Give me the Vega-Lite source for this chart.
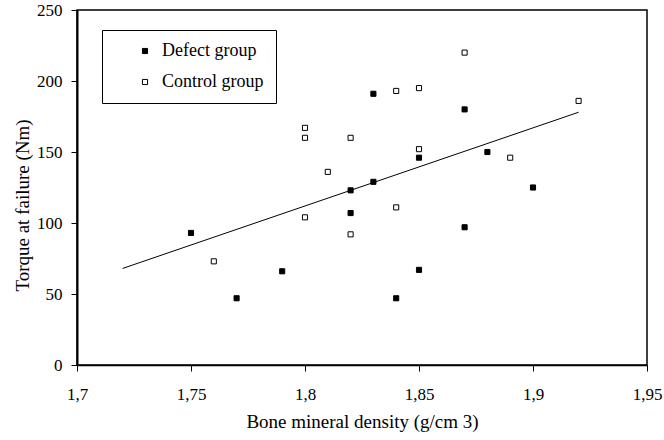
{
  "$schema": "https://vega.github.io/schema/vega-lite/v6.json",
  "width": 570,
  "height": 355,
  "autosize": {"type": "none"},
  "padding": {"left": 77, "top": 10, "right": 17, "bottom": 75},
  "background": "white",
  "config": {
    "view": {"stroke": "black", "strokeWidth": 1.5},
    "font": "Liberation Serif",
    "style": {
      "guide-label": {"font": "Liberation Serif", "fill": "black"},
      "guide-title": {"font": "Liberation Serif", "fill": "black"}
    },
    "axis": {
      "grid": false,
      "domainColor": "black",
      "domainWidth": 1.5,
      "tickColor": "black",
      "tickWidth": 1,
      "tickSize": 6,
      "labelFont": "Liberation Serif",
      "labelFontSize": 17,
      "labelColor": "black",
      "titleFont": "Liberation Serif",
      "titleFontSize": 19,
      "titleFontWeight": "normal",
      "titleColor": "black"
    }
  },
  "datasets": {
    "points": [
      {"bmd": 1.75, "torque": 93, "group": "Defect group"},
      {"bmd": 1.77, "torque": 47, "group": "Defect group"},
      {"bmd": 1.79, "torque": 66, "group": "Defect group"},
      {"bmd": 1.82, "torque": 123, "group": "Defect group"},
      {"bmd": 1.82, "torque": 107, "group": "Defect group"},
      {"bmd": 1.83, "torque": 129, "group": "Defect group"},
      {"bmd": 1.83, "torque": 191, "group": "Defect group"},
      {"bmd": 1.84, "torque": 47, "group": "Defect group"},
      {"bmd": 1.85, "torque": 67, "group": "Defect group"},
      {"bmd": 1.85, "torque": 146, "group": "Defect group"},
      {"bmd": 1.87, "torque": 180, "group": "Defect group"},
      {"bmd": 1.87, "torque": 97, "group": "Defect group"},
      {"bmd": 1.88, "torque": 150, "group": "Defect group"},
      {"bmd": 1.90, "torque": 125, "group": "Defect group"},
      {"bmd": 1.76, "torque": 73, "group": "Control group"},
      {"bmd": 1.80, "torque": 167, "group": "Control group"},
      {"bmd": 1.80, "torque": 160, "group": "Control group"},
      {"bmd": 1.80, "torque": 104, "group": "Control group"},
      {"bmd": 1.81, "torque": 136, "group": "Control group"},
      {"bmd": 1.82, "torque": 160, "group": "Control group"},
      {"bmd": 1.82, "torque": 92, "group": "Control group"},
      {"bmd": 1.84, "torque": 193, "group": "Control group"},
      {"bmd": 1.84, "torque": 111, "group": "Control group"},
      {"bmd": 1.85, "torque": 195, "group": "Control group"},
      {"bmd": 1.85, "torque": 152, "group": "Control group"},
      {"bmd": 1.87, "torque": 220, "group": "Control group"},
      {"bmd": 1.89, "torque": 146, "group": "Control group"},
      {"bmd": 1.92, "torque": 186, "group": "Control group"}
    ],
    "fit": [
      {"bmd": 1.72, "torque": 68},
      {"bmd": 1.92, "torque": 178}
    ]
  },
  "layer": [
    {
      "data": {"name": "fit"},
      "mark": {"type": "line", "color": "black", "strokeWidth": 1},
      "encoding": {
        "x": {"field": "bmd", "type": "quantitative"},
        "y": {"field": "torque", "type": "quantitative"}
      }
    },
    {
      "data": {"name": "points"},
      "mark": {"type": "point", "shape": "square", "filled": true, "stroke": "black", "strokeWidth": 1, "size": 26, "opacity": 1},
      "encoding": {
        "x": {
          "field": "bmd",
          "type": "quantitative",
          "scale": {"domain": [1.7, 1.95], "nice": false, "zero": false},
          "axis": {
            "title": "Bone mineral density (g/cm 3)",
            "values": [1.7, 1.75, 1.8, 1.85, 1.9, 1.95],
            "labelExpr": "replace(format(datum.value, '.2~f'), '.', ',')",
            "labelFont": "Liberation Serif",
            "labelFontSize": 17,
            "labelPadding": 15,
            "titlePadding": 10,
            "labelFlush": false
          }
        },
        "y": {
          "field": "torque",
          "type": "quantitative",
          "scale": {"domain": [0, 250], "nice": false},
          "axis": {
            "title": "Torque at failure (Nm)",
            "values": [0, 50, 100, 150, 200, 250],
            "labelFont": "Liberation Serif",
            "labelFontSize": 17,
            "labelPadding": 9,
            "domainWidth": 2,
            "titleX": -55,
            "titleY": 195,
            "titleAlign": "center",
            "titleBaseline": "middle",
            "titleAngle": -90
          }
        },
        "fill": {
          "field": "group",
          "type": "nominal",
          "scale": {"domain": ["Defect group", "Control group"], "range": ["black", "white"]},
          "legend": {
            "title": null,
            "orient": "none",
            "legendX": 25,
            "legendY": 20,
            "padding": 12,
            "strokeColor": "black",
            "fillColor": "white",
            "symbolType": "square",
            "symbolSize": 26,
            "symbolStrokeColor": "black",
            "symbolStrokeWidth": 1,
            "symbolOffset": 22,
            "labelOffset": 8,
            "labelFont": "Liberation Serif",
            "labelFontSize": 18,
            "labelColor": "black",
            "rowPadding": 13,
            "labelExpr": "datum.label + '\u00a0\u00a0\u00a0\u00a0\u00a0\u00a0'"
          }
        }
      }
    }
  ]
}
